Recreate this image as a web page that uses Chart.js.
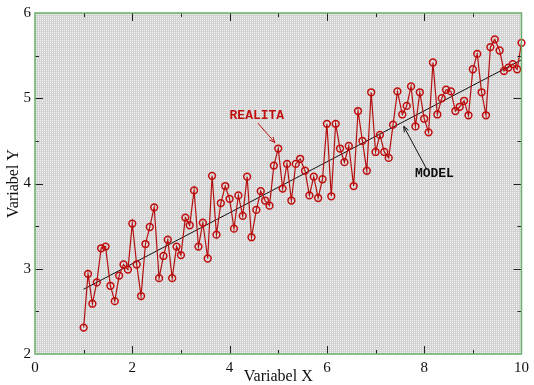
<!DOCTYPE html>
<html>
<head>
<meta charset="utf-8">
<script src="https://cdn.jsdelivr.net/npm/chart.js@4/dist/chart.umd.min.js"></script>
<style>
  body { margin: 0; background: #fff; }
  #wrap { width: 534px; height: 385px; }
</style>
</head>
<body>
<div id="wrap"><canvas id="chart"></canvas></div>
<script>
// data
const realitaX = [
  1.00, 1.09, 1.18, 1.27, 1.36, 1.45, 1.55, 1.64, 1.73, 1.82, 1.91,
  2.00, 2.09, 2.18, 2.27, 2.36, 2.45, 2.55, 2.64, 2.73, 2.82, 2.91,
  3.00, 3.09, 3.18, 3.27, 3.36, 3.45, 3.55, 3.64, 3.73, 3.82, 3.91,
  4.00, 4.09, 4.18, 4.27, 4.36, 4.45, 4.55, 4.64, 4.73, 4.82, 4.91,
  5.00, 5.09, 5.18, 5.27, 5.36, 5.45, 5.55, 5.64, 5.73, 5.82, 5.91,
  6.00, 6.09, 6.18, 6.27, 6.36, 6.45, 6.55, 6.64, 6.73, 6.82, 6.91,
  7.00, 7.09, 7.18, 7.27, 7.36, 7.45, 7.55, 7.64, 7.73, 7.82, 7.91,
  8.00, 8.09, 8.18, 8.27, 8.36, 8.45, 8.55, 8.64, 8.73, 8.82, 8.91,
  9.00, 9.09, 9.18, 9.27, 9.36, 9.45, 9.55, 9.64, 9.73, 9.82, 9.91,
  10.00
];
const realitaY = [
  2.31, 2.94, 2.59, 2.84, 3.24, 3.26, 2.80, 2.62, 2.92, 3.05, 2.99,
  3.53, 3.05, 2.68, 3.29, 3.49, 3.72, 2.89, 3.15, 3.34, 2.89, 3.26,
  3.16, 3.60, 3.51, 3.92, 3.26, 3.54, 3.12, 4.09, 3.40, 3.77, 3.97,
  3.82, 3.47, 3.86, 3.62, 4.08, 3.37, 3.69, 3.91, 3.80, 3.74, 4.21,
  4.41, 3.94, 4.23, 3.80, 4.23, 4.29, 4.15, 3.86, 4.08, 3.83, 4.05,
  4.70, 3.85, 4.70, 4.41, 4.25, 4.44, 3.97, 4.85, 4.50, 4.15, 5.07,
  4.37, 4.57, 4.37, 4.30, 4.69, 5.08, 4.81, 4.91, 5.14, 4.67, 5.07,
  4.76, 4.60, 5.42, 4.81, 5.00, 5.10, 5.08, 4.85, 4.90, 4.97, 4.80,
  5.34, 5.52, 5.07, 4.80, 5.60, 5.69, 5.56, 5.32, 5.36, 5.40, 5.34,
  5.65
];
const modelX = [1, 10];
const modelY = [2.76, 5.45];

// labels with arrows, in data units: [text, textX, textY, arrowFromX, arrowFromY, arrowToX, arrowToY]
const labelRealita = ['REALITA', 4.56, 4.80, 4.58, 4.71, 4.93, 4.48];
const labelModel = ['MODEL', 8.21, 4.12, 8.04, 4.18, 7.58, 4.67];

function makePattern(ctx) {
  const p = document.createElement('canvas');
  p.width = 2; p.height = 2;
  const pc = p.getContext('2d');
  pc.fillStyle = '#d2d2d2';
  pc.fillRect(0, 0, 2, 2);
  pc.fillStyle = '#f4f4f4';
  pc.fillRect(0, 0, 1, 1);
  return ctx.createPattern(p, 'repeat');
}

const framePlugin = {
  id: 'frame',
  beforeDatasetsDraw(chart) {
    const { ctx, chartArea: a } = chart;
    ctx.save();
    ctx.fillStyle = makePattern(ctx);
    ctx.fillRect(a.left, a.top, a.right - a.left, a.bottom - a.top);
    ctx.restore();
  },
  afterDatasetsDraw(chart) {
    const { ctx, chartArea: a, scales } = chart;
    ctx.save();
    ctx.strokeStyle = '#222';
    ctx.lineWidth = 1;
    ctx.beginPath();
    for (let v = 1; v < 10; v++) {
      const px = Math.round(scales.x.getPixelForValue(v)) + 0.5;
      const len = v % 2 === 0 ? 8 : 4;
      ctx.moveTo(px, a.bottom); ctx.lineTo(px, a.bottom - len);
      ctx.moveTo(px, a.top); ctx.lineTo(px, a.top + len);
    }
    for (let v = 2.5; v < 6; v += 0.5) {
      const py = Math.round(scales.y.getPixelForValue(v)) + 0.5;
      const len = v % 1 === 0 ? 8 : 4;
      ctx.moveTo(a.left, py); ctx.lineTo(a.left + len, py);
      ctx.moveTo(a.right, py); ctx.lineTo(a.right - len, py);
    }
    ctx.stroke();
    ctx.strokeStyle = '#6aae6a';
    ctx.lineWidth = 1.5;
    ctx.strokeRect(a.left, a.top, a.right - a.left, a.bottom - a.top);
    ctx.restore();
  },
  afterDraw(chart) {
    const { ctx, scales } = chart;
    const drawLabel = (lab, color) => {
      const [txt, tx, ty, fx, fy, ex, ey] = lab;
      const x = scales.x, y = scales.y;
      ctx.save();
      ctx.fillStyle = color;
      ctx.strokeStyle = color;
      ctx.font = 'bold 13px "Liberation Mono", monospace';
      ctx.textAlign = 'center';
      ctx.textBaseline = 'middle';
      ctx.fillText(txt, x.getPixelForValue(tx), y.getPixelForValue(ty));
      const x1 = x.getPixelForValue(fx), y1 = y.getPixelForValue(fy);
      const x2 = x.getPixelForValue(ex), y2 = y.getPixelForValue(ey);
      ctx.lineWidth = 1;
      ctx.beginPath();
      ctx.moveTo(x1, y1); ctx.lineTo(x2, y2);
      const ang = Math.atan2(y2 - y1, x2 - x1);
      ctx.moveTo(x2, y2);
      ctx.lineTo(x2 - 6 * Math.cos(ang - 0.4), y2 - 6 * Math.sin(ang - 0.4));
      ctx.moveTo(x2, y2);
      ctx.lineTo(x2 - 6 * Math.cos(ang + 0.4), y2 - 6 * Math.sin(ang + 0.4));
      ctx.stroke();
      ctx.restore();
    };
    drawLabel(labelRealita, '#c01010');
    drawLabel(labelModel, '#111');
  }
};

const serif = '"Liberation Serif", "DejaVu Serif", serif';

new Chart(document.getElementById('chart'), {
  type: 'scatter',
  data: {
    datasets: [{
      label: 'Realita',
      data: realitaX.map((x, i) => ({ x: x, y: realitaY[i] })),
      showLine: true,
      borderColor: '#b51010',
      borderWidth: 1.2,
      pointRadius: 3.4,
      pointBorderWidth: 1.5,
      pointBackgroundColor: 'rgba(0,0,0,0)',
      pointBorderColor: '#c00c0c',
      clip: false,
      order: 1
    }, {
      label: 'Model',
      data: modelX.map((x, i) => ({ x: x, y: modelY[i] })),
      showLine: true,
      borderColor: '#111',
      borderWidth: 1,
      pointRadius: 0,
      order: 2
    }]
  },
  options: {
    responsive: true,
    maintainAspectRatio: false,
    animation: false,
    layout: { padding: { top: 11, right: 8, left: 0, bottom: 0 } },
    plugins: {
      legend: { display: false },
      tooltip: { enabled: false }
    },
    scales: {
      x: {
        type: 'linear',
        min: 0, max: 10,
        afterFit: (s) => { s.height = 31; },
        grid: { display: false, drawTicks: false },
        border: { display: false },
        ticks: { stepSize: 2, padding: 5, color: '#111', font: { family: serif, size: 15 } },
        title: {
          display: true, text: 'Variabel X', color: '#111',
          padding: { top: 0, bottom: 0 },
          font: { family: serif, size: 16, lineHeight: 1 }
        }
      },
      y: {
        type: 'linear',
        min: 2, max: 6,
        afterFit: (s) => { s.width = 35; },
        grid: { display: false, drawTicks: false },
        border: { display: false },
        ticks: { stepSize: 1, padding: 4, color: '#111', font: { family: serif, size: 15 } },
        title: {
          display: true, text: 'Variabel Y', color: '#111',
          padding: { top: 4, bottom: 0 },
          font: { family: serif, size: 16, lineHeight: 1.2 }
        }
      }
    }
  },
  plugins: [framePlugin]
});
</script>
</body>
</html>
